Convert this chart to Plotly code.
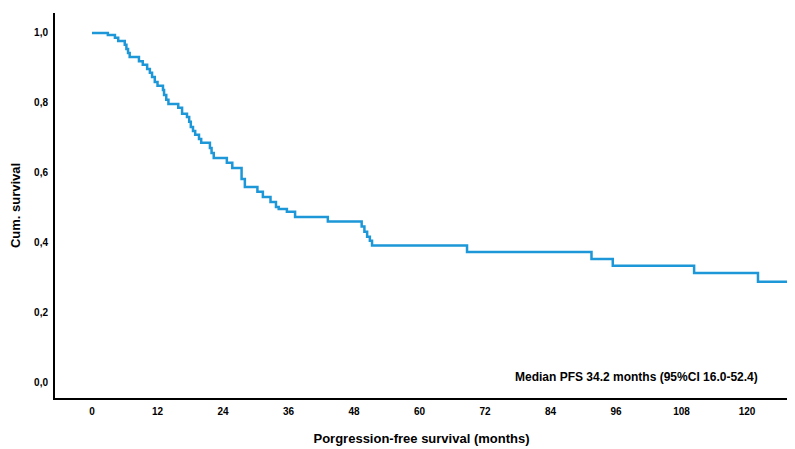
import plotly.graph_objects as go

# Kaplan-Meier steps: time (months) at which survival drops, survival after drop
times = [0, 2.9, 4.2, 4.8, 6.0, 6.3, 6.6, 6.9, 8.6, 9.3, 10.1, 10.6, 11.0, 11.5, 12.0,
         13.0, 13.2, 13.6, 14.0, 15.8, 16.5, 17.4, 17.8, 18.1, 18.5, 18.9, 19.6, 20.0,
         21.6, 21.9, 22.3, 24.7, 25.7, 27.4, 28.0, 30.3, 31.3, 32.7, 33.7, 34.2, 35.7,
         37.2, 43.2, 49.4, 49.9, 50.4, 50.9, 51.3, 68.7, 91.5, 95.4, 110.3, 122.0, 128.0]
survival = [1.0, 0.994, 0.986, 0.977, 0.966, 0.954, 0.943, 0.931, 0.919, 0.909, 0.897, 0.886,
            0.874, 0.860, 0.849, 0.837, 0.823, 0.809, 0.797, 0.786, 0.769, 0.760, 0.746,
            0.731, 0.720, 0.709, 0.697, 0.686, 0.671, 0.657, 0.643, 0.629, 0.614, 0.583,
            0.560, 0.546, 0.531, 0.517, 0.503, 0.497, 0.489, 0.474, 0.461, 0.447, 0.432,
            0.418, 0.406, 0.393, 0.374, 0.354, 0.335, 0.314, 0.289, 0.289]

x_ticks = [0, 12, 24, 36, 48, 60, 72, 84, 96, 108, 120]
y_ticks = [0.0, 0.2, 0.4, 0.6, 0.8, 1.0]

x_title = "Porgression-free survival (months)"
y_title = "Cum. survival"
note = "Median PFS 34.2 months (95%CI 16.0-52.4)"

FONT = "Liberation Sans, Arial, sans-serif"
W, H = 795, 449
OFF = 8  # page body margin offset
# desired plot area on screen: x 55..788, y 13..398
L, R, T, B = 55 - OFF, W - (788 - OFF), 13 - OFF, H - (398 - OFF)

fig = go.Figure()
fig.add_trace(go.Scatter(
    x=times, y=survival, mode="lines", line_shape="hv",
    line=dict(color="#1d97d7", width=2.5), showlegend=False, hoverinfo="skip"))

fig.update_layout(
    width=W, height=H,
    margin=dict(l=L, r=R, t=T, b=B, autoexpand=False),
    paper_bgcolor="white", plot_bgcolor="white",
    separators=",.",
    font=dict(family=FONT, color="black"),
    showlegend=False,
)
fig.update_xaxes(
    range=[-6.78, 127.5], tickvals=x_ticks, ticktext=[str(v) for v in x_ticks],
    automargin=False,
    showgrid=False, zeroline=False, showline=True, linecolor="black", linewidth=2,
    ticks="outside", ticklen=3, tickcolor="rgba(0,0,0,0)",
    tickfont=dict(family=FONT, size=10, color="black", weight="bold"),
    title=dict(text="<b>" + x_title + "</b>", font=dict(family=FONT, size=13), standoff=18),
)
fig.update_yaxes(
    range=[-0.043, 1.057], tickvals=y_ticks, tickformat=".1f",
    automargin=False,
    showgrid=False, zeroline=False, showline=True, linecolor="black", linewidth=2,
    ticks="outside", ticklen=3, tickcolor="rgba(0,0,0,0)",
    tickfont=dict(family=FONT, size=10, color="black", weight="bold"),
    title=dict(text="<b>" + y_title + "</b>", font=dict(family=FONT, size=13), standoff=11),
)
fig.add_annotation(
    x=(636 - 55) / (788 - 55), y=1 - (377 - 13) / (398 - 13),
    xref="paper", yref="paper", xanchor="center", yanchor="middle",
    text="<b>" + note + "</b>",
    showarrow=False, font=dict(family=FONT, size=12, color="black"))

fig.write_html("out.html")
